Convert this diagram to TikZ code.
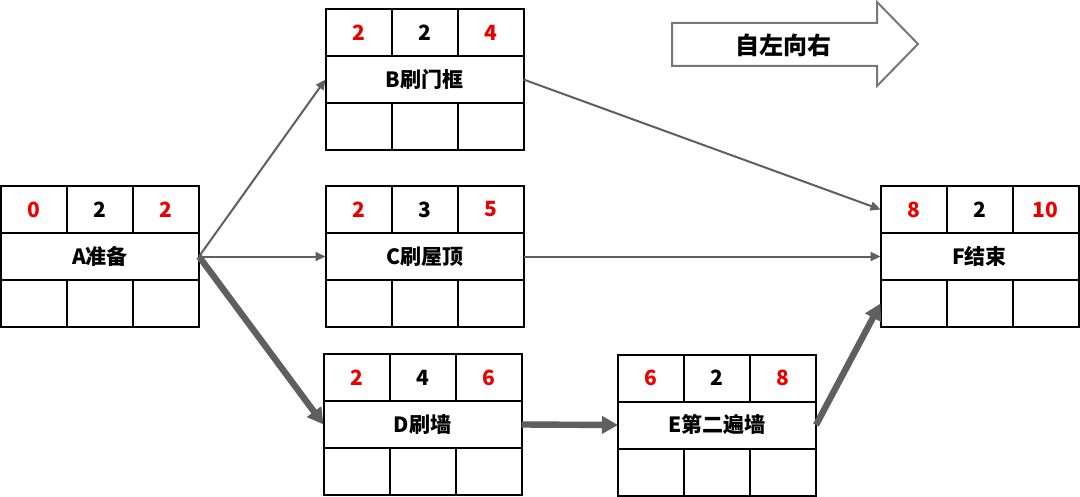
\documentclass[tikz,border=0pt]{standalone}
\usepackage{fontspec}
\setmainfont{Noto Sans CJK SC}
\usetikzlibrary{arrows.meta,positioning}
\definecolor{vermelho}{RGB}{235,0,0}
\definecolor{seta}{RGB}{95,95,95}
\definecolor{contorno}{RGB}{120,120,120}

\begin{document}
\begin{tikzpicture}[x=0.5pt,y=-0.5pt,
    celula/.style={draw,line width=1pt,outer sep=0pt,inner sep=0pt,minimum width=33pt,minimum height=23.5pt,font=\bfseries\fontsize{10.5}{12}\selectfont},
    nome/.style={celula,minimum width=99pt},
    cedo/.style={celula,text=vermelho},
    fraca/.style={draw=seta,line width=1pt,-{Triangle[length=5pt,width=4.5pt]}},
    forte/.style={draw=seta,line width=3.2pt,-{Triangle[length=8pt,width=8.5pt]}}
]
\fill[white] (0,0) rectangle (1080,497);
\useasboundingbox (0,0) rectangle (1080,497);

\foreach \id/\px/\py/\es/\dur/\ef/\txt in {A/100/256.5/0/2/2/A准备,
    B/424.5/79.5/2/2/4/B刷门框, C/424.5/256.5/2/3/5/C刷屋顶,
    D/422.5/424.5/2/4/6/D刷墙, E/717/425/6/2/8/E第二遍墙,
    F/979.5/256.5/8/2/10/F结束}{
  \node[nome] (\id) at (\px,\py) {\txt};
  \node[celula,anchor=south] (\id-d) at (\id.north) {\dur};
  \node[cedo,left=0pt of \id-d] (\id-es) {\es};
  \node[cedo,right=0pt of \id-d] (\id-ef) {\ef};
  \node[celula,anchor=north] (\id-b2) at (\id.south) {};
  \node[celula,left=0pt of \id-b2] (\id-b1) {};
  \node[celula,right=0pt of \id-b2] (\id-b3) {};
}

% seta de sentido
\draw[contorno,line width=1pt] (672,23) -- (877,23) -- (877,2) -- (918,44)
  -- (877,86) -- (877,66) -- (672,66) -- cycle;
\node[font=\bfseries\fontsize{12}{14}\selectfont] (sentido) at (783,45) {自左向右};

\draw[fraca] (A.east) -- (B.west);
\draw[fraca] (A.east) -- (C.west);
\draw[forte] (A.east) -- (D.west);
\draw[forte] (D.east) -- (E.west);
\draw[forte] (E.east) -- (F-b1.west);
\draw[fraca] (B.east) -- (F-es.west);
\draw[fraca] (C.east) -- (F.west);
\end{tikzpicture}
\end{document}
